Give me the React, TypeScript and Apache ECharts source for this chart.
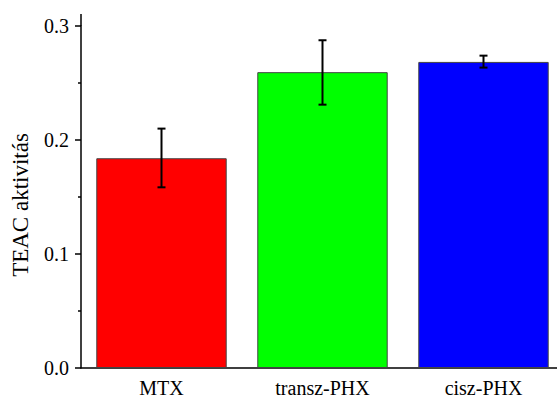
import React, { useEffect, useRef } from "react";
import * as echarts from "echarts";

const categories = ["MTX", "transz-PHX", "cisz-PHX"];
const values = [0.184, 0.2595, 0.2685];
const errLow = [0.1585, 0.231, 0.2635];
const errHigh = [0.21, 0.2875, 0.274];
const barColors = ["#ff0000", "#00ff00", "#0000ff"];
const yTicks = [0, 0.1, 0.2, 0.3];

const FONT = "Liberation Serif";

export default function App() {
  const ref = useRef<HTMLDivElement>(null);
  useEffect(() => {
    document.body.style.margin = "0";
    const chart = echarts.init(ref.current!, null, { renderer: "svg" });
    const option: any = {
      animation: false,
      backgroundColor: "#ffffff",
      textStyle: { fontFamily: FONT },
      grid: { left: 81, top: 26, width: 483, height: 344 },
      xAxis: [
        {
          type: "category",
          data: categories,
          axisLine: { lineStyle: { color: "#000", width: 1.5 } },
          axisTick: { alignWithLabel: true, length: 5, lineStyle: { color: "#000", width: 1.5 } },
          axisLabel: { color: "#000", fontFamily: FONT, fontSize: 20, margin: 10 },
        },
        {
          type: "category",
          data: categories,
          position: "bottom",
          axisLine: { show: false },
          axisTick: { alignWithLabel: false, length: 3, lineStyle: { color: "#000", width: 1.5 } },
          axisLabel: { show: false },
        },
      ],
      yAxis: {
        type: "value",
        min: yTicks[0],
        max: yTicks[yTicks.length - 1],
        interval: 0.1,
        axisLine: { show: true, lineStyle: { color: "#000", width: 1.5 } },
        axisTick: { show: true, length: 6, lineStyle: { color: "#000", width: 1.5 } },
        minorTick: { show: true, splitNumber: 2, length: 3, lineStyle: { color: "#000", width: 1.5 } },
        splitLine: { show: false },
        axisLabel: {
          color: "#000",
          fontFamily: FONT,
          fontSize: 20,
          margin: 12,
          formatter: (v: number) => v.toFixed(1),
        },
      },
      graphic: [
        {
          type: "line",
          shape: { x1: 81, y1: 14, x2: 81, y2: 26 },
          style: { stroke: "#000", lineWidth: 1.5 },
        },
        {
          type: "text",
          x: 20,
          y: 205,
          rotation: Math.PI / 2,
          style: {
            text: "TEAC aktivitás",
            fontFamily: FONT,
            fontSize: 23,
            fill: "#000",
            textAlign: "center",
            textVerticalAlign: "middle",
          },
        },
      ],
      series: [
        {
          type: "bar",
          xAxisIndex: 0,
          barWidth: "81%",
          data: values.map((v, i) => ({
            value: v,
            itemStyle: { color: barColors[i], borderColor: "#444", borderWidth: 1 },
          })),
        },
        {
          type: "custom",
          xAxisIndex: 0,
          data: categories.map((_, i) => [i, errLow[i], errHigh[i]]),
          renderItem: (params: any, api: any) => {
            const x = api.value(0);
            const lo = api.coord([x, api.value(1)]);
            const hi = api.coord([x, api.value(2)]);
            const half = 4;
            const st = { stroke: "#000", lineWidth: 2 };
            return {
              type: "group",
              children: [
                { type: "line", shape: { x1: lo[0], y1: lo[1], x2: hi[0], y2: hi[1] }, style: st },
                { type: "line", shape: { x1: hi[0] - half, y1: hi[1], x2: hi[0] + half, y2: hi[1] }, style: st },
                { type: "line", shape: { x1: lo[0] - half, y1: lo[1], x2: lo[0] + half, y2: lo[1] }, style: st },
              ],
            };
          },
          z: 10,
        },
      ],
    };
    chart.setOption(option);
    return () => chart.dispose();
  }, []);
  return (
    <div style={{ width: 557, height: 398, overflow: "hidden", position: "relative" }}>
      <div ref={ref} style={{ width: 580, height: 398 }} />
    </div>
  );
}
